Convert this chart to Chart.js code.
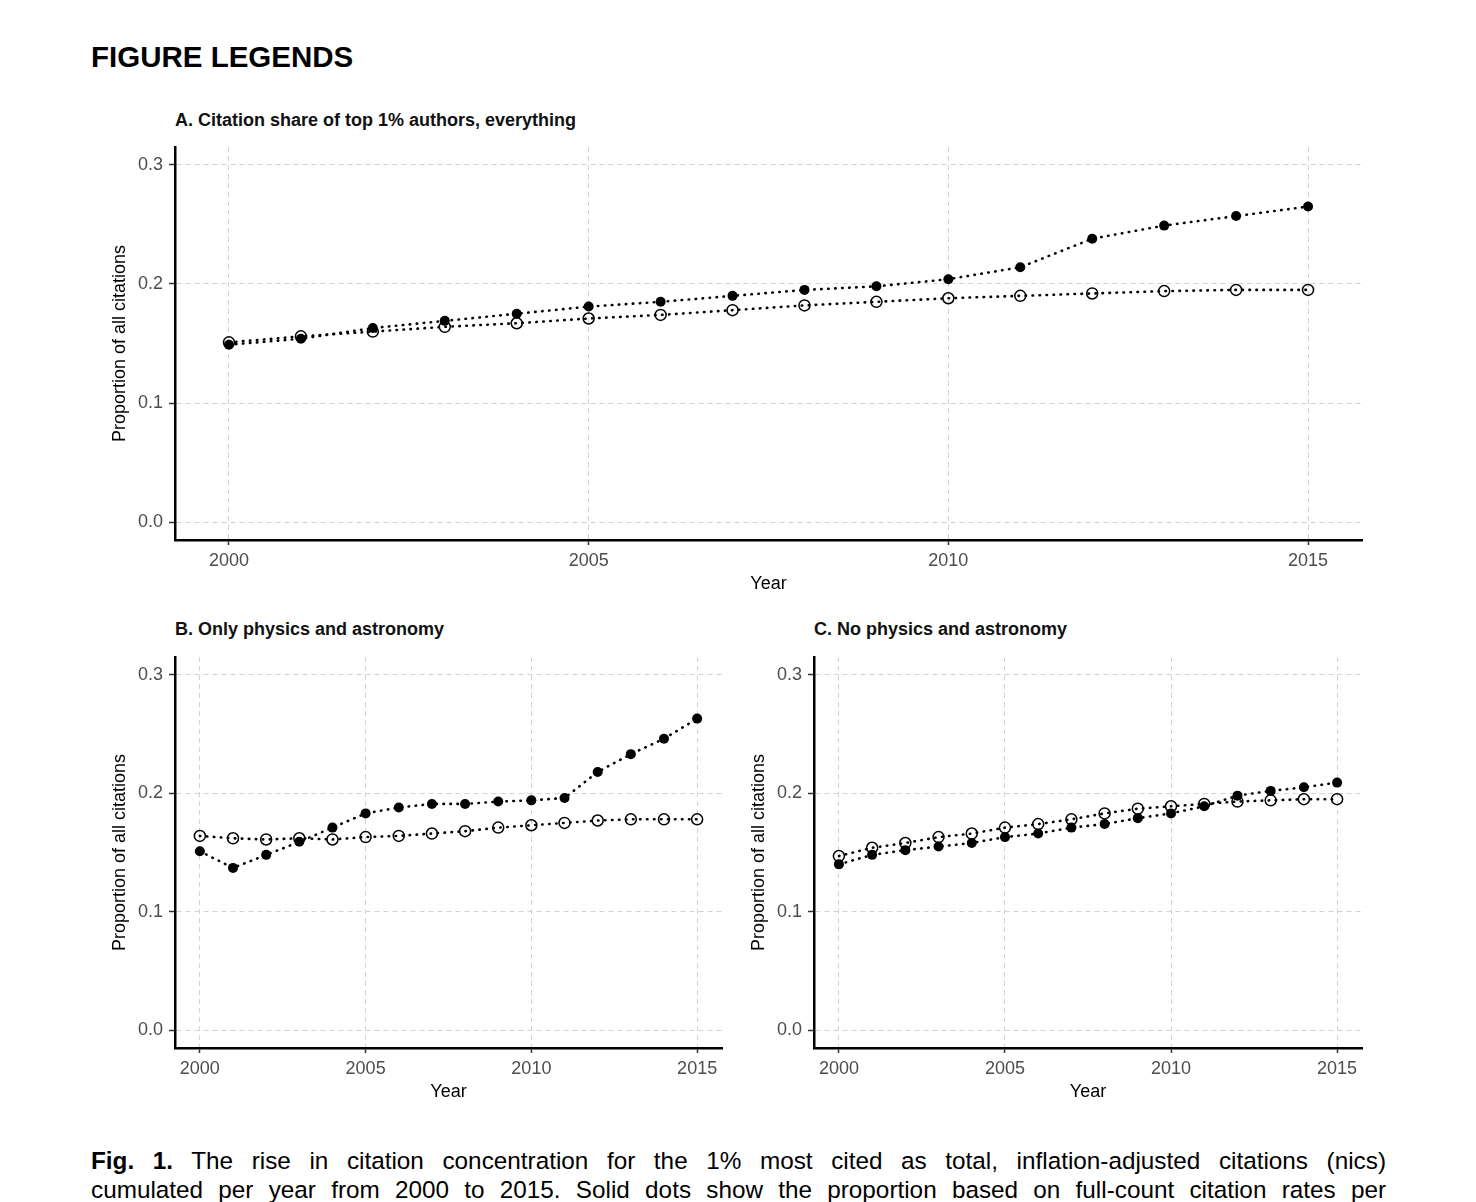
<!DOCTYPE html>
<html>
<head>
<meta charset="utf-8">
<script src="https://cdn.jsdelivr.net/npm/chart.js@4.4.1/dist/chart.umd.min.js"></script>
<style>
  body { margin: 0; background: #fff; font-family: 'Liberation Sans', Arial, sans-serif; }
  .abs { position: absolute; }
  #pagehead { left: 91px; top: 42px; font-size: 29.5px; line-height: 29px; font-weight: bold; }
  .ptitle { font-size: 18px; line-height: 18px; font-weight: bold; color: #111; }
  .cap { left: 91px; width: 1295px; font-size: 24.3px; line-height: 29px; text-align: justify; text-align-last: justify; }
  canvas { position: absolute; }
</style>
</head>
<body>
<div id="pagehead" class="abs">FIGURE LEGENDS</div>

<div class="abs ptitle" style="left:175px; top:111px;">A. Citation share of top 1% authors, everything</div>
<div class="abs ptitle" style="left:175px; top:620px;">B. Only physics and astronomy</div>
<div class="abs ptitle" style="left:814px; top:620px;">C. No physics and astronomy</div>

<canvas id="grafA" style="left:100px; top:140px;"></canvas>
<canvas id="grafB" style="left:100px; top:650px;"></canvas>
<canvas id="grafC" style="left:739px; top:650px;"></canvas>

<div class="abs cap" style="top:1146px;"><b>Fig. 1.</b> The rise in citation concentration for the 1% most cited as total, inflation-adjusted citations (nics)</div>
<div class="abs cap" style="top:1175px;">cumulated per year from 2000 to 2015. Solid dots show the proportion based on full-count citation rates per</div>

<script>
// Dados
const anos = [2000, 2001, 2002, 2003, 2004, 2005, 2006, 2007, 2008, 2009, 2010, 2011, 2012, 2013, 2014, 2015];
const ticksAno = [2000, 2005, 2010, 2015];
const ticksProp = [0.0, 0.1, 0.2, 0.3];

// A. tudo
const cheiosA = [0.149, 0.154, 0.163, 0.169, 0.175, 0.181, 0.185, 0.190, 0.195, 0.198, 0.204, 0.214, 0.238, 0.249, 0.257, 0.265];
const vaziosA = [0.151, 0.156, 0.160, 0.164, 0.167, 0.171, 0.174, 0.178, 0.182, 0.185, 0.188, 0.190, 0.192, 0.194, 0.195, 0.195];
// B. só física e astronomia
const cheiosB = [0.151, 0.137, 0.148, 0.159, 0.171, 0.183, 0.188, 0.191, 0.191, 0.193, 0.194, 0.196, 0.218, 0.233, 0.246, 0.263];
const vaziosB = [0.164, 0.162, 0.161, 0.162, 0.161, 0.163, 0.164, 0.166, 0.168, 0.171, 0.173, 0.175, 0.177, 0.178, 0.178, 0.178];
// C. sem física e astronomia
const cheiosC = [0.140, 0.148, 0.152, 0.155, 0.158, 0.163, 0.166, 0.171, 0.174, 0.179, 0.183, 0.189, 0.198, 0.202, 0.205, 0.209];
const vaziosC = [0.147, 0.154, 0.158, 0.163, 0.166, 0.171, 0.174, 0.178, 0.183, 0.187, 0.189, 0.191, 0.193, 0.194, 0.195, 0.195];

Chart.defaults.font.family = "'Liberation Sans', Arial, sans-serif";
Chart.defaults.animation = false;

const pontos = vals => anos.map((a, i) => ({ x: a, y: vals[i] }));

function criarGrafico(id, largura, altura, padDireita, cheios, vazios) {
    const cv = document.getElementById(id);
    cv.width = largura; cv.height = altura;
    cv.style.width = largura + 'px'; cv.style.height = altura + 'px';

    const linha = { borderColor: '#000', borderWidth: 2.6, borderDash: [0.5, 6.5], borderCapStyle: 'round', tension: 0, clip: false };

    return new Chart(cv, {
        type: 'line',
        data: {
            datasets: [
                { ...linha, data: pontos(cheios), pointRadius: 5, pointBackgroundColor: '#000', pointBorderColor: '#000', pointBorderWidth: 0 },
                { ...linha, data: pontos(vazios), pointRadius: 5.5, pointBackgroundColor: 'rgba(0,0,0,0)', pointBorderColor: '#000', pointBorderWidth: 1.5 }
            ]
        },
        options: {
            responsive: false,
            layout: { padding: { top: 3, left: 0, right: padDireita, bottom: 0 } },
            plugins: { legend: { display: false }, tooltip: { enabled: false } },
            scales: {
                x: {
                    type: 'linear', min: 1999.25, max: 2015.75,
                    afterBuildTicks: s => { s.ticks = ticksAno.map(v => ({ value: v })); },
                    afterFit: s => { s.height = 55; s.paddingLeft = 0; s.paddingRight = 0; },
                    grid: { color: '#d3d3d3', lineWidth: 1, tickColor: '#333', tickWidth: 1.5, tickLength: 5 },
                    border: { display: true, color: '#000', width: 2.5, dash: [5, 4] },
                    ticks: { color: '#4d4d4d', font: { size: 18 }, padding: 5, maxRotation: 0, callback: v => String(v) },
                    title: { display: true, text: 'Year', color: '#000', font: { size: 18 }, padding: { top: 0, bottom: 0 } }
                },
                y: {
                    min: -0.015, max: 0.315,
                    afterBuildTicks: s => { s.ticks = ticksProp.map(v => ({ value: v })); },
                    afterFit: s => { s.width = 75; s.paddingTop = 0; s.paddingBottom = 0; },
                    grid: { color: '#d3d3d3', lineWidth: 1, tickColor: '#333', tickWidth: 1.5, tickLength: 6 },
                    border: { display: true, color: '#000', width: 2.5, dash: [5, 4] },
                    ticks: { color: '#4d4d4d', font: { size: 18 }, padding: 6, callback: v => v.toFixed(1) },
                    title: { display: true, text: 'Proportion of all citations', color: '#000', font: { size: 18 }, padding: { top: 9, bottom: 0 } }
                }
            }
        }
    });
}

criarGrafico('grafA', 1300, 455, 38, cheiosA, vaziosA);
criarGrafico('grafB', 640, 453, 18, cheiosB, vaziosB);
criarGrafico('grafC', 640, 453, 17, cheiosC, vaziosC);
</script>
</body>
</html>
